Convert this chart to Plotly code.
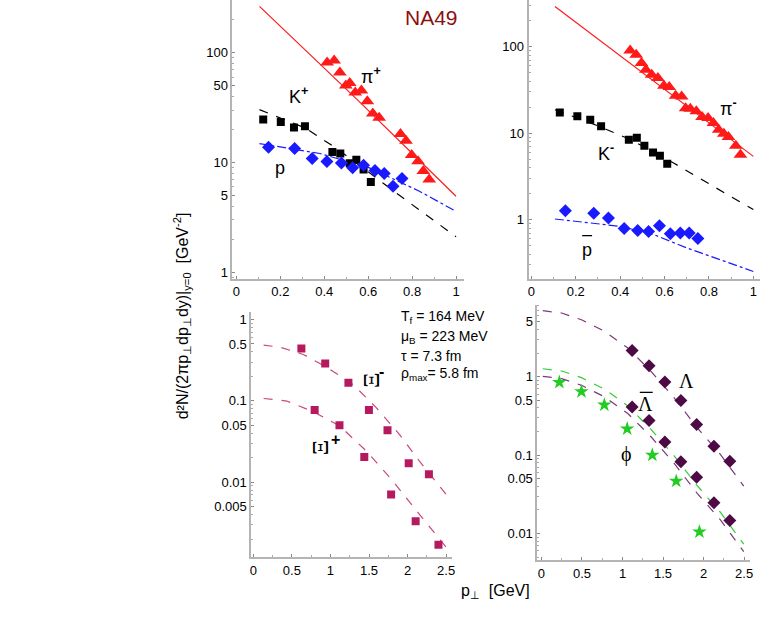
import plotly.graph_objects as go

# ---------------- data ----------------
# top-left: positive particles
pip_pt = [0.413, 0.445, 0.471, 0.498, 0.516, 0.541, 0.569, 0.596, 0.621, 0.650, 0.747, 0.772, 0.798, 0.827, 0.851, 0.878]
pip_val = [81.6, 85.0, 66.0, 50.4, 53.0, 43.5, 45.4, 36.1, 27.9, 25.6, 18.2, 15.8, 11.7, 10.3, 8.4, 7.0]
kp_pt = [0.122, 0.202, 0.262, 0.312, 0.437, 0.473, 0.516, 0.546, 0.579, 0.612]
kp_val = [24.6, 23.4, 20.9, 21.4, 12.5, 12.1, 9.86, 10.6, 8.64, 6.67]
p_pt = [0.146, 0.265, 0.345, 0.412, 0.478, 0.529, 0.579, 0.631, 0.673, 0.713, 0.754]
p_val = [13.8, 13.4, 10.9, 10.2, 9.9, 8.95, 9.45, 8.46, 7.94, 6.09, 7.16]
pip_fit_pt = [0.105, 0.55, 1.0]
pip_fit = [264, 37.4, 4.94]
kp_fit_pt = [0.105, 0.312, 0.440, 0.576, 0.727, 0.863, 1.0]
kp_fit = [30.3, 20.7, 14.1, 8.95, 5.3, 3.37, 2.11]
p_fit_pt = [0.105, 0.380, 0.606, 0.833, 1.0]
p_fit = [14.9, 12.1, 8.95, 5.49, 3.59]

# top-right: negative particles
pim_pt = [0.445, 0.472, 0.496, 0.516, 0.542, 0.570, 0.597, 0.621, 0.650, 0.677, 0.695, 0.716, 0.743, 0.769, 0.796, 0.820, 0.844, 0.867, 0.888, 0.921, 0.942]
pim_val = [90.6, 80.9, 64.7, 54.2, 47.5, 43.4, 35.4, 34.2, 27.1, 26.6, 19.5, 19.2, 17.9, 15.4, 15.0, 13.1, 11.0, 9.86, 9.03, 7.17, 5.64]
km_pt = [0.128, 0.207, 0.265, 0.314, 0.439, 0.475, 0.509, 0.548, 0.579, 0.612]
km_val = [17.4, 15.7, 14.3, 12.0, 8.41, 8.87, 7.17, 6.0, 5.5, 4.44]
pbar_pt = [0.153, 0.281, 0.347, 0.418, 0.479, 0.528, 0.577, 0.626, 0.671, 0.711, 0.750]
pbar_val = [1.27, 1.19, 1.05, 0.794, 0.753, 0.733, 0.853, 0.689, 0.702, 0.702, 0.608]
pim_fit_pt = [0.106, 0.55, 1.0]
pim_fit = [292, 40.1, 5.4]
km_fit_pt = [0.106, 0.299, 0.448, 0.641, 0.820, 1.0]
km_fit = [18.7, 12.2, 8.41, 4.52, 2.43, 1.31]
pbar_fit_pt = [0.106, 0.403, 0.552, 0.701, 1.0]
pbar_fit = [1.02, 0.837, 0.671, 0.471, 0.252]

# bottom-left: cascades
xim_pt = [0.623, 0.932, 1.233, 1.499, 1.740, 2.015, 2.277]
xim_val = [0.441, 0.288, 0.167, 0.0771, 0.0435, 0.0171, 0.0125]
xip_pt = [0.795, 1.117, 1.439, 1.787, 2.105, 2.401]
xip_val = [0.0771, 0.050, 0.0205, 0.00706, 0.00332, 0.0017]
xim_fit_pt = [0.133, 0.348, 0.648, 0.949, 1.293, 1.594, 1.894, 2.152, 2.539]
xim_fit = [0.484, 0.457, 0.372, 0.26, 0.159, 0.0825, 0.0388, 0.0183, 0.00637]
xip_fit_pt = [0.133, 0.434, 0.777, 1.121, 1.465, 1.808, 2.152, 2.539]
xip_fit = [0.107, 0.0995, 0.0736, 0.049, 0.0242, 0.0104, 0.00405, 0.00144]

# bottom-right: lambdas and phi
lam_pt = [1.119, 1.328, 1.523, 1.720, 1.915, 2.128, 2.324]
lam_val = [2.16, 1.38, 0.855, 0.495, 0.245, 0.129, 0.0834]
alam_val = [0.411, 0.275, 0.147, 0.0819, 0.0522, 0.0246, 0.0146]
phi_pt = [0.221, 0.494, 0.776, 1.058, 1.368, 1.663, 1.949]
phi_val = [0.847, 0.644, 0.436, 0.216, 0.1, 0.0465, 0.0105]
br_fit_pt = [0.016, 0.249, 0.494, 0.780, 1.066, 1.352, 1.638, 1.924, 2.21, 2.496]
lam_fit = [6.93, 6.48, 5.32, 3.78, 2.32, 1.17, 0.535, 0.222, 0.101, 0.0401]
alam_fit = [1.01, 0.944, 0.775, 0.551, 0.338, 0.171, 0.078, 0.0323, 0.0148, 0.00585]
phi_fit = [1.26, 1.18, 0.97, 0.69, 0.423, 0.213, 0.0976, 0.0405, 0.0185, 0.00731]

# tick labels
tl_yticks = [1, 5, 10, 50, 100]
tr_yticks = [1, 10, 100]
bl_yticks = [0.005, 0.01, 0.05, 0.1, 0.5, 1]
br_yticks = [0.01, 0.05, 0.1, 0.5, 1, 5]
top_xticks = [0, 0.2, 0.4, 0.6, 0.8, 1]
bot_xticks = [0, 0.5, 1, 1.5, 2, 2.5]

# ---------------- figure ----------------
W, H = 763, 622
def px(x):
    return x / W
def py(y):
    return 1 - y / H

RED = "#ff1a1a"
BLUE = "#1a1aff"
XI = "#b5195e"
XI_L = "#c8487e"
LAM = "#4e0a45"
LAM_L = "#7a3a78"
GRN = "#22cc22"
GRN_L = "#33cc33"

fig = go.Figure()

def line(x, y, color, dash, ax, width=1.2):
    fig.add_trace(go.Scatter(x=x, y=y, mode="lines", line=dict(color=color, dash=dash, width=width),
                             xaxis="x" + ax, yaxis="y" + ax, showlegend=False, hoverinfo="skip"))

def pts(x, y, color, symbol, size, ax):
    fig.add_trace(go.Scatter(x=x, y=y, mode="markers",
                             marker=dict(color=color, symbol=symbol, size=size, line=dict(width=0)),
                             xaxis="x" + ax, yaxis="y" + ax, showlegend=False))

# top-left (axis "")
line(pip_fit_pt, pip_fit, RED, "solid", "")
line(kp_fit_pt, kp_fit, "black", "dash", "")
line(p_fit_pt, p_fit, BLUE, "dashdot", "")
pts(pip_pt, pip_val, RED, "triangle-up", 12, "")
pts(kp_pt, kp_val, "black", "square", 8, "")
pts(p_pt, p_val, BLUE, "diamond", 10, "")

# top-right (axis 2)
line(pim_fit_pt, pim_fit, RED, "solid", "2")
line(km_fit_pt, km_fit, "black", "dash", "2")
line(pbar_fit_pt, pbar_fit, BLUE, "dashdot", "2")
pts(pim_pt, pim_val, RED, "triangle-up", 12, "2")
pts(km_pt, km_val, "black", "square", 8, "2")
pts(pbar_pt, pbar_val, BLUE, "diamond", 10, "2")

# bottom-left (axis 3)
line(xim_fit_pt, xim_fit, XI_L, "dash", "3")
line(xip_fit_pt, xip_fit, XI_L, "dash", "3")
pts(xim_pt, xim_val, XI, "square", 8, "3")
pts(xip_pt, xip_val, XI, "square", 8, "3")

# bottom-right (axis 4)
line(br_fit_pt, lam_fit, LAM_L, "dash", "4")
line(br_fit_pt, alam_fit, LAM_L, "dash", "4")
line(br_fit_pt, phi_fit, GRN_L, "dash", "4")
pts(lam_pt, lam_val, LAM, "diamond", 10, "4")
pts(lam_pt, alam_val, LAM, "diamond", 10, "4")
pts(phi_pt, phi_val, GRN, "star", 11, "4")

AX_COL = "#b4b4b4"
TICKFONT = dict(family="Liberation Sans, Arial", size=13, color="black")

def xaxis(dom, rng, ticks, anchor):
    return dict(domain=dom, range=rng, tickvals=ticks, ticktext=[("%g" % t) for t in ticks],
                showline=True, linecolor=AX_COL, linewidth=2, showgrid=False, zeroline=False,
                ticks="inside", ticklen=3, tickcolor="#888888", tickfont=TICKFONT, anchor=anchor,
                minor=dict(ticks="inside", ticklen=2, tickcolor="#aaaaaa", dtick=(ticks[1] - ticks[0]) / 2))

def yaxis(dom, rng, ticks, anchor):
    return dict(domain=dom, type="log", range=rng, tickvals=ticks, ticktext=[("%g" % t) for t in ticks],
                showline=True, linecolor=AX_COL, linewidth=2, showgrid=False, zeroline=False,
                ticks="inside", ticklen=3, tickcolor="#888888", tickfont=TICKFONT, anchor=anchor,
                minor=dict(ticks="inside", ticklen=2, tickcolor="#aaaaaa", dtick="D1"))

fig.update_layout(
    width=W, height=H, margin=dict(l=0, r=0, t=0, b=0),
    paper_bgcolor="white", plot_bgcolor="white",
    xaxis=xaxis([px(232), px(465)], [-0.018, 1.036], top_xticks, "y"),
    yaxis=yaxis([py(279), py(0)], [-0.056, 2.48], tl_yticks, "x"),
    xaxis2=xaxis([px(530), px(763)], [-0.013, 1.03], top_xticks, "y2"),
    yaxis2=yaxis([py(279), py(0)], [-0.68, 2.54], tr_yticks, "x2"),
    xaxis3=xaxis([px(251), px(453)], [-0.026, 2.577], bot_xticks, "y3"),
    yaxis3=yaxis([py(558), py(313)], [-2.92, 0.086], bl_yticks, "x3"),
    xaxis4=xaxis([px(539), px(753)], [-0.049, 2.574], bot_xticks, "y4"),
    yaxis4=yaxis([py(561), py(305)], [-2.34, 0.92], br_yticks, "x4"),
    font=dict(family="Liberation Sans, Arial", color="black"),
)

SANS = "Liberation Sans, Arial"
SERIF = "Liberation Serif, Times New Roman"

def ann(x, y, text, size=16, family=SANS, color="black", angle=0, xanchor="center"):
    fig.add_annotation(x=px(x), y=py(y), xref="paper", yref="paper", text=text, showarrow=False,
                       font=dict(size=size, family=family, color=color), textangle=angle,
                       xanchor=xanchor, yanchor="middle")

def bar(x0, x1, y):
    fig.add_shape(type="line", xref="paper", yref="paper", x0=px(x0), x1=px(x1), y0=py(y), y1=py(y),
                  line=dict(color="black", width=1.3))

ann(432, 18, "NA49", size=21, color="#8b1010")
ann(371, 76, "π<sup><b>+</b></sup>", size=18)
ann(298, 96, "K<sup><b>+</b></sup>", size=18)
ann(280, 168, "p", size=18)

ann(731, 108, "π<sup><b>-</b></sup>", size=18)
ann(608, 153, "K<sup><b>-</b></sup>", size=18)
ann(589, 250, "p", size=18)
bar(584, 594, 236)

ann(372, 381, "Ξ", size=24, family=SERIF, angle=-90)
ann(382, 372, "<b>-</b>", size=16)
ann(320, 448, "Ξ", size=24, family=SERIF, angle=-90)
ann(336, 440, "<b>+</b>", size=16)

ann(689, 382, "Λ", size=20, family=SERIF)
ann(648, 405, "Λ", size=20, family=SERIF)
bar(642, 655, 393)
ann(629, 455, "ϕ", size=20, family=SERIF)

ann(400, 318, "T<sub>f</sub> = 164 MeV", size=14, xanchor="left")
ann(400, 338, "μ<sub>B</sub> = 223 MeV", size=14, xanchor="left")
ann(400, 357, "τ = 7.3 fm", size=14, xanchor="left")
ann(400, 375, "ρ<sub>max</sub>= 5.8 fm", size=14, xanchor="left")

ann(497, 592, "p<sub>⊥</sub>  [GeV]", size=16)
ann(182, 316, "d²N/(2πp<sub>⊥</sub>dp<sub>⊥</sub>dy)|<sub>y=0</sub>  [GeV<sup>-2</sup>]", size=16, angle=-90)

fig.write_html("out.html", config={"displayModeBar": False},
               post_script="document.body.style.margin='0px';document.body.style.overflow='hidden';")
